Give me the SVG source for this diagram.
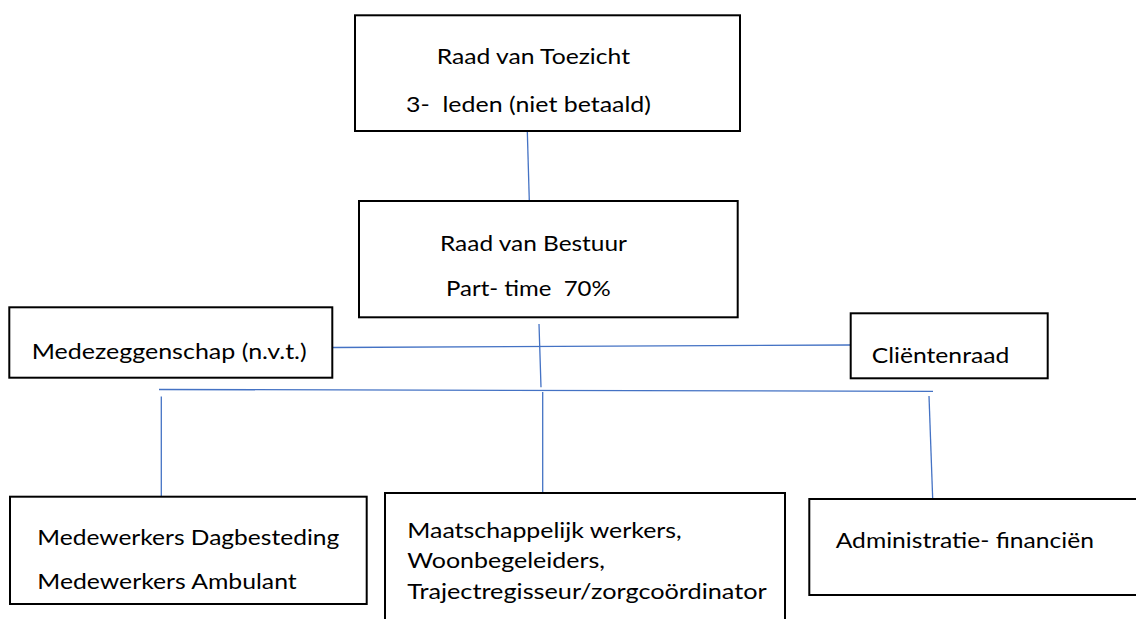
<svg xmlns="http://www.w3.org/2000/svg" width="1136" height="619" viewBox="0 0 1136 619">
<style>
.box{fill:#fff;stroke:#000;stroke-width:2}
.t{font-family:Lato,"Open Sans","Liberation Sans",sans-serif;font-size:20.5px;fill:#000}
.c{stroke:#4472C4;stroke-width:1.3;fill:none}
</style>
<rect width="1136" height="619" fill="#fff"/>
<g id="connectors">
<line class="c" x1="527.3" y1="131" x2="529.3" y2="201"/>
<line class="c" x1="539" y1="324" x2="541" y2="387.3"/>
<line class="c" x1="333" y1="347.5" x2="851" y2="345"/>
<line class="c" x1="159" y1="389.5" x2="933" y2="391.3"/>
<line class="c" x1="161.3" y1="396.5" x2="161.3" y2="497"/>
<line class="c" x1="542.7" y1="392" x2="542.7" y2="493"/>
<line class="c" x1="929" y1="396" x2="932.7" y2="499"/>
</g>
<g id="raad-van-toezicht">
<rect class="box" x="355" y="15.3" width="385" height="115.7"/>
<text class="t" x="436.7" y="64" textLength="193.3" lengthAdjust="spacingAndGlyphs">Raad van Toezicht</text>
<text class="t" x="406" y="111.7" textLength="245" lengthAdjust="spacingAndGlyphs" xml:space="preserve">3-  leden (niet betaald)</text>
</g>
<g id="raad-van-bestuur">
<rect class="box" x="359" y="201" width="378.7" height="116.3"/>
<text class="t" x="440" y="250.7" textLength="187" lengthAdjust="spacingAndGlyphs">Raad van Bestuur</text>
<text class="t" x="446" y="296" textLength="164.7" lengthAdjust="spacingAndGlyphs" xml:space="preserve">Part- time  70%</text>
</g>
<g id="medezeggenschap">
<rect class="box" x="9.3" y="307.3" width="323" height="70.4"/>
<text class="t" x="31.7" y="359" textLength="275" lengthAdjust="spacingAndGlyphs">Medezeggenschap (n.v.t.)</text>
</g>
<g id="clientenraad">
<rect class="box" x="850.7" y="313.3" width="197" height="65"/>
<text class="t" x="871.7" y="363.3" textLength="137.6" lengthAdjust="spacingAndGlyphs">Cliëntenraad</text>
</g>
<g id="medewerkers">
<rect class="box" x="10" y="496.7" width="356.7" height="107.3"/>
<text class="t" x="37.3" y="545" textLength="302" lengthAdjust="spacingAndGlyphs">Medewerkers Dagbesteding</text>
<text class="t" x="37.3" y="589.3" textLength="259.4" lengthAdjust="spacingAndGlyphs">Medewerkers Ambulant</text>
</g>
<g id="maatschappelijk">
<rect class="box" x="385" y="493" width="400" height="140"/>
<text class="t" x="407.3" y="538.3" textLength="274.4" lengthAdjust="spacingAndGlyphs">Maatschappelijk werkers,</text>
<text class="t" x="407.3" y="568.3" textLength="197.7" lengthAdjust="spacingAndGlyphs">Woonbegeleiders,</text>
<text class="t" x="407.3" y="599" textLength="359.4" lengthAdjust="spacingAndGlyphs">Trajectregisseur/zorgcoördinator</text>
</g>
<g id="administratie">
<rect class="box" x="809.3" y="499" width="340" height="96"/>
<text class="t" x="835.7" y="547.7" textLength="258.3" lengthAdjust="spacingAndGlyphs">Administratie- financiën</text>
</g>
</svg>
